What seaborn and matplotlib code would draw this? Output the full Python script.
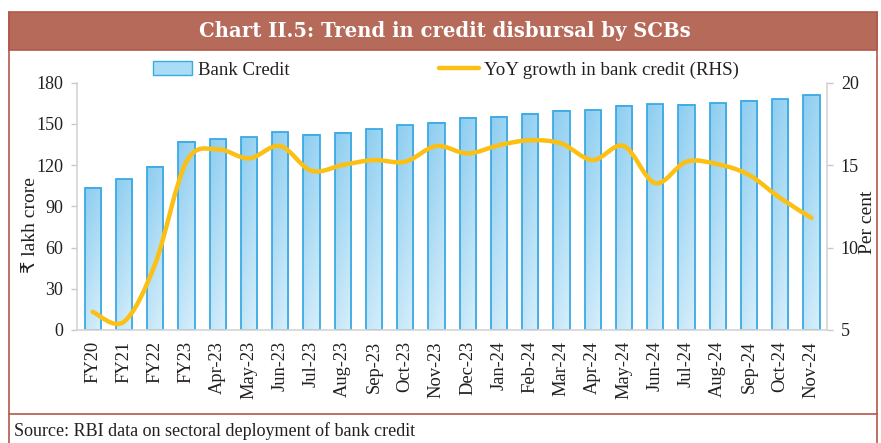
import numpy as np
import pandas as pd
import seaborn as sns
import matplotlib.pyplot as plt
from matplotlib.path import Path
from matplotlib.patches import PathPatch, Rectangle, Patch
from matplotlib.lines import Line2D
from matplotlib.colors import LinearSegmentedColormap

periods = ["FY20", "FY21", "FY22", "FY23", "Apr-23", "May-23", "Jun-23", "Jul-23",
           "Aug-23", "Sep-23", "Oct-23", "Nov-23", "Dec-23", "Jan-24", "Feb-24",
           "Mar-24", "Apr-24", "May-24", "Jun-24", "Jul-24", "Aug-24", "Sep-24",
           "Oct-24", "Nov-24"]
bank_credit = [103.6, 109.5, 118.7, 136.9, 138.7, 140.1, 144.0, 141.9,
               143.5, 146.0, 148.9, 150.8, 154.2, 155.2, 157.2,
               159.5, 160.0, 163.2, 164.2, 163.7, 165.0, 166.9,
               167.9, 170.8]
yoy_growth = [6.1, 5.5, 9.0, 15.2, 15.95, 15.4, 16.15, 14.65,
              15.0, 15.3, 15.2, 16.15, 15.7, 16.2, 16.5,
              16.3, 15.3, 16.15, 13.9, 15.2, 15.05, 14.4,
              13.0, 11.8]

bar_edge = "#3aaae3"
bar_fill = "#a9dcf5"
line_col = "#fcbf14"
frame_col = "#b3574b"
band_col = "#b66a5a"
text_col = "#231f20"

sns.set_theme(style="white")
plt.rcParams['font.family'] = ['Liberation Serif', 'DejaVu Sans']

fig = plt.figure(figsize=(8.81, 4.43), dpi=100)
W, H = 881, 443
ax = fig.add_axes([77 / W, 1 - 330 / H, 750 / W, 247.5 / H])

df = pd.DataFrame({"Period": periods, "Credit": bank_credit, "YoY": yoy_growth})
sns.barplot(data=df, x="Period", y="Credit", ax=ax, width=0.52, color=bar_fill,
            edgecolor=bar_edge, linewidth=1.3, saturation=1)

# gradient fill inside bars
cmap = LinearSegmentedColormap.from_list("bars", ["#8ccdf0", "#d8effb"])
v = np.linspace(0, 1, 80).reshape(-1, 1)
h = np.linspace(0, 1, 20).reshape(1, -1)
grad = 0.75 * v + 0.25 * h
for p in ax.patches:
    x0, w, hh = p.get_x(), p.get_width(), p.get_height()
    ax.imshow(grad, extent=[x0, x0 + w, 0, hh], cmap=cmap, aspect='auto',
              origin='upper', zorder=0.9, interpolation='bilinear')
    p.set_facecolor('none')

ax.set_xlim(-0.5, len(periods) - 0.5)
ax.set_ylim(0, 180)
ax.set_yticks(range(0, 181, 30))
ax.set_xticks(range(len(periods)))
ax.set_xticklabels(periods, rotation=90)
ax.set_xlabel("")
ax.tick_params(axis='x', length=0, pad=8, labelsize=13.3, labelcolor=text_col)
ax.tick_params(axis='y', left=True, length=4, width=1, color='#c8c8c8', pad=6,
               labelsize=13, labelcolor=text_col)
for s in ["top", "right"]:
    ax.spines[s].set_visible(False)
for s in ["left", "bottom"]:
    ax.spines[s].set_color('#d4d4d4')
    ax.spines[s].set_linewidth(1.2)
ax.set_ylabel("₹ lakh crore", fontsize=14, color=text_col)
ax.yaxis.set_label_coords(-0.051, 0.425)

# growth line on the right axis, smoothed like the source chart
ax2 = ax.twinx()
ax2.set_ylim(5, 20)
ax2.set_yticks([5, 10, 15, 20])
pts = np.column_stack([np.arange(len(yoy_growth)), yoy_growth])
ext = np.vstack([pts[0], pts, pts[-1]])
verts = [pts[0]]
codes = [Path.MOVETO]
for i in range(len(pts) - 1):
    p0, p1, p2, p3 = ext[i], ext[i + 1], ext[i + 2], ext[i + 3]
    verts += [p1 + (p2 - p0) / 6, p2 - (p3 - p1) / 6, p2]
    codes += [Path.CURVE4] * 3
ax2.add_patch(PathPatch(Path(verts, codes), facecolor='none', edgecolor=line_col,
                        lw=3.2, capstyle='round', joinstyle='round'))
ax2.tick_params(axis='y', right=True, length=4, width=1, color='#c8c8c8', pad=6,
                labelsize=13, labelcolor=text_col)
for s in ["top", "left", "bottom"]:
    ax2.spines[s].set_visible(False)
ax2.spines["right"].set_color('#d4d4d4')
ax2.spines["right"].set_linewidth(1.2)
ax2.set_ylabel("Per cent", fontsize=14, color=text_col)
ax2.yaxis.set_label_coords(1.042, 0.437)
ax2.grid(False)
ax.grid(False)

handles = [Patch(facecolor=bar_fill, edgecolor=bar_edge, label="Bank Credit"),
           Line2D([], [], color=line_col, lw=3.2, label="YoY growth in bank credit (RHS)")]
fig.legend(handles=handles, loc='center', bbox_to_anchor=(446 / W, 1 - 70 / H), ncol=2,
           frameon=False, fontsize=13.6, columnspacing=7.9, handlelength=2.1,
           handletextpad=0.3, labelcolor=text_col)

# frame, header band and footer
fig.add_artist(Rectangle((9 / W, 1 - 50 / H), 868 / W, 38 / H, transform=fig.transFigure,
                         facecolor=band_col, edgecolor=frame_col, lw=1.2))
for xs, ys in [([9, 9], [12, 443]), ([877, 877], [12, 443]), ([9, 877], [414, 414])]:
    fig.add_artist(Line2D([x / W for x in xs], [1 - y / H for y in ys],
                          transform=fig.transFigure, color=frame_col, lw=1.2))
fig.text(445 / W, 1 - 31 / H, "Chart II.5: Trend in credit disbursal by SCBs",
         color='white', fontweight='bold', fontsize=14.1, ha='center', va='center',
         family='DejaVu Serif')
fig.text(14 / W, 1 - 431 / H, "Source: RBI data on sectoral deployment of bank credit",
         fontsize=13, va='center', color=text_col)

fig.savefig("out.png", dpi=100)
